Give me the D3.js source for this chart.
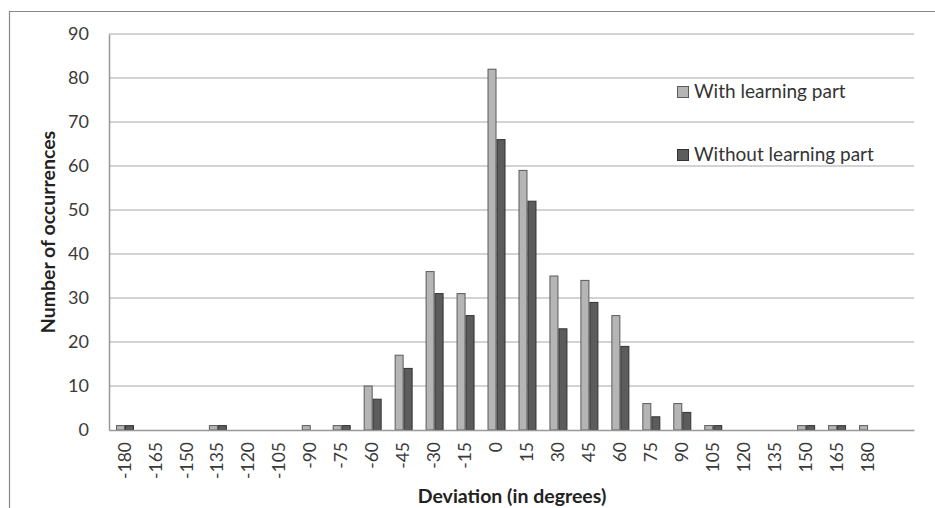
<!DOCTYPE html>
<html>
<head>
<meta charset="utf-8">
<script src="https://cdn.jsdelivr.net/npm/d3@7"></script>
<style>
  body { margin: 0; background: #fff; }
  text { font-family: Lato, "Open Sans", sans-serif; }
</style>
</head>
<body>
<div id="chart"></div>
<script>
var categories = ["-180","-165","-150","-135","-120","-105","-90","-75","-60","-45","-30","-15","0","15","30","45","60","75","90","105","120","135","150","165","180"];
var withLearning = [1,0,0,1,0,0,1,1,10,17,36,31,82,59,35,34,26,6,6,1,0,0,1,1,1];
var withoutLearning = [1,0,0,1,0,0,0,1,7,14,31,26,66,52,23,29,19,3,4,1,0,0,1,1,0];
var seriesNames = ["With learning part", "Without learning part"];
var yTicks = [0,10,20,30,40,50,60,70,80,90];

var width = 935;
var height = 508;

var svg = d3.select("#chart").append("svg")
	.attr("width", width).attr("height", height);

// outer frame
svg.append("path")
	.attr("d", "M9.5,508 V11.5 H935")
	.attr("fill", "none").attr("stroke", "#8a8a8a").attr("stroke-width", 1.2);

var plotLeft = 109, plotRight = 914, plotTop = 34, plotBottom = 430;

// one extra empty slot at the right end, as in the original
var xScale = d3.scaleBand()
	.domain(categories.concat([""]))
	.range([plotLeft, plotRight])
	.paddingInner(0).paddingOuter(0);

var yScale = d3.scaleLinear()
	.domain([0, 90]).range([plotBottom, plotTop]);

// gridlines
svg.append("g").selectAll("line").data(yTicks.slice(1)).enter().append("line")
	.attr("x1", plotLeft).attr("x2", plotRight)
	.attr("y1", function(d) { return yScale(d); })
	.attr("y2", function(d) { return yScale(d); })
	.attr("stroke", "#c4c4c4").attr("stroke-width", 1.5);

var barW = 9;
var bars = svg.append("g");
var series = [withLearning, withoutLearning];
var fills = ["#b5b5b5", "#5c5c5c"];
var strokes = ["#5a5a5a", "#333"];

series.forEach(function(vals, s) {
	bars.selectAll(".s" + s).data(vals.map(function(v, i) { return {c: categories[i], v: v}; }).filter(function(d) { return d.v > 0; }))
		.enter().append("rect")
		.attr("class", "s" + s)
		.attr("x", function(d) { return xScale(d.c) + xScale.bandwidth() / 2 - barW + s * barW + 1; })
		.attr("y", function(d) { return yScale(d.v); })
		.attr("width", barW - 1)
		.attr("height", function(d) { return plotBottom - yScale(d.v); })
		.attr("fill", fills[s])
		.attr("stroke", strokes[s]).attr("stroke-width", 1);
});

// axes
var xAxis = d3.axisBottom(xScale).tickSize(0).tickPadding(0);
var gx = svg.append("g").attr("transform", "translate(0," + plotBottom + ")").call(xAxis);
gx.select(".domain").attr("stroke", "#999").attr("stroke-width", 1.5);
gx.selectAll(".tick text")
	.attr("transform", "rotate(-90)")
	.attr("x", -12).attr("y", 0).attr("dy", "0.35em")
	.attr("text-anchor", "end")
	.attr("font-size", 17.5).attr("fill", "#3a3a3a")
	.style("font-family", "Lato, sans-serif");

var yAxis = d3.axisLeft(yScale).tickValues(yTicks).tickSize(0).tickPadding(20);
var gy = svg.append("g").attr("transform", "translate(" + plotLeft + ",0)").call(yAxis);
gy.select(".domain").attr("stroke", "#999").attr("stroke-width", 1.5);
gy.selectAll(".tick text")
	.attr("font-size", 18).attr("fill", "#3a3a3a")
	.style("font-family", "Lato, sans-serif");

// axis titles
svg.append("text")
	.attr("x", 512).attr("y", 503)
	.attr("text-anchor", "middle")
	.attr("font-size", 19.5).attr("font-weight", "bold").attr("fill", "#222")
	.text("Deviation (in degrees)");

svg.append("text")
	.attr("transform", "translate(55,232) rotate(-90)")
	.attr("text-anchor", "middle")
	.attr("font-size", 19.5).attr("font-weight", "bold").attr("fill", "#222")
	.text("Number of occurrences");

// legend
var legendY = [98, 161];
seriesNames.forEach(function(name, s) {
	svg.append("rect")
		.attr("x", 677.5).attr("y", legendY[s] - 11.5)
		.attr("width", 11).attr("height", 11)
		.attr("fill", fills[s]).attr("stroke", strokes[s]);
	svg.append("text")
		.attr("x", 694).attr("y", legendY[s])
		.attr("font-size", 19).attr("fill", "#333")
		.text(name);
});
</script>
</body>
</html>
